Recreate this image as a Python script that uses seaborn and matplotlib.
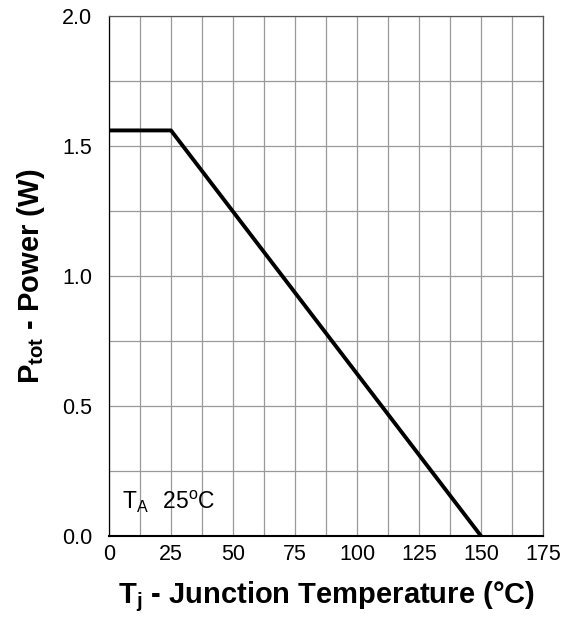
import matplotlib
matplotlib.use("Agg")
import matplotlib.pyplot as plt
import seaborn as sns
import numpy as np
import pandas as pd

# derating curve
temp_c = [0, 25, 150]
power_w = [1.56, 1.56, 0.0]

x_ticks = [0, 25, 50, 75, 100, 125, 150, 175]
y_ticks = [0.0, 0.5, 1.0, 1.5, 2.0]

sns.set_style("white")
plt.rcParams['font.family'] = ['Liberation Sans', 'DejaVu Sans']
plt.rcParams['mathtext.fontset'] = 'custom'
plt.rcParams['mathtext.rm'] = 'Liberation Sans'
plt.rcParams['mathtext.bf'] = 'Liberation Sans:bold'
plt.rcParams['text.color'] = 'black'
plt.rcParams['axes.labelcolor'] = 'black'

df = pd.DataFrame({"temp": temp_c, "power": power_w})

fig = plt.figure(figsize=(5.63, 6.17), dpi=100)
ax = fig.add_axes([0.1936, 0.1313, 0.7709, 0.8427])

sns.lineplot(data=df, x="temp", y="power", ax=ax, color="black", linewidth=2.8,
             sort=False)

ax.set_xlim(0, 175)
ax.set_ylim(0, 2.0)
ax.set_xticks(x_ticks)
ax.set_yticks(y_ticks)
ax.set_yticklabels([f"{v:.1f}" for v in y_ticks])
ax.set_xticks(np.arange(0, 176, 12.5), minor=True)
ax.set_yticks(np.arange(0, 2.01, 0.25), minor=True)
ax.grid(which="both", color="#999999", linewidth=0.9)
ax.tick_params(which="both", length=0, labelsize=15.5, colors="black")
ax.tick_params(axis="y", pad=12)
ax.tick_params(axis="x", pad=6)

for s in ax.spines.values():
    s.set_color("#555555")
    s.set_linewidth(0.9)
ax.spines["left"].set_color("black")
ax.spines["bottom"].set_color("black")
ax.spines["bottom"].set_linewidth(1.5)

ax.set_xlabel(r"$\mathbf{T_j}$ - Junction Temperature (°C)", fontsize=21,
              fontweight="bold", labelpad=10)
ax.set_ylabel(r"$\mathbf{P_{tot}}$ - Power (W)", fontsize=21,
              fontweight="bold", labelpad=11)

ax.text(5.2, 0.104, r"$\mathregular{T_A\ \ 25^oC}$", fontsize=16.5, color="black")

fig.savefig("out.png", dpi=100)
